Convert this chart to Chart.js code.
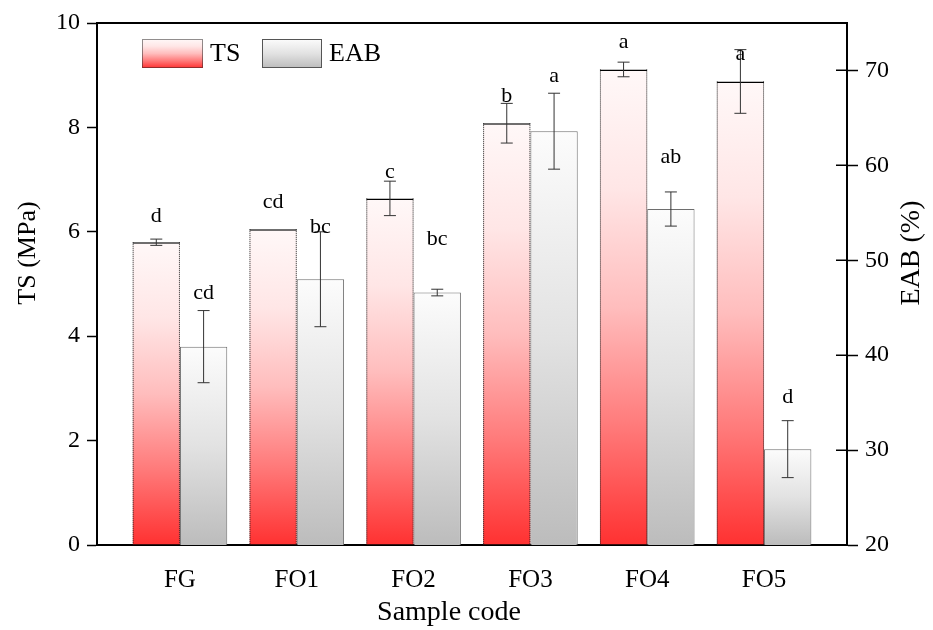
<!DOCTYPE html>
<html>
<head>
<meta charset="utf-8">
<script src="https://cdn.jsdelivr.net/npm/chart.js@4.4.1/dist/chart.umd.min.js"></script>
<style>
  html, body { margin: 0; background: #fff; }
  #wrap { width: 933px; height: 630px; }
</style>
</head>
<body>
<div id="wrap"><canvas id="grafico" width="933" height="630"></canvas></div>
<script>
// valores
const amostras = ["FG", "FO1", "FO2", "FO3", "FO4", "FO5"];
const ts = [5.80, 6.05, 6.64, 8.08, 9.11, 8.88];
const tsErro = [0.06, 0, 0.33, 0.38, 0.14, 0.61];
const tsLetras = ["d", "cd", "c", "b", "a", "a"];
const eab = [40.9, 48.0, 46.6, 63.6, 55.4, 30.1];
const eabErro = [3.8, 5.0, 0.35, 4.0, 1.8, 3.0];
const eabLetras = ["cd", "bc", "bc", "a", "ab", "d"];
// altura (na unidade do proprio eixo) onde fica cada letra
const tsLetraY = [6.19, 6.46, 7.03, 8.49, 9.52, 9.29];
const eabLetraY = [45.9, 52.9, 51.6, 68.8, 60.3, 35.0];

const fonte = "Liberation Serif";
Chart.defaults.font.family = fonte;
Chart.defaults.color = "#000";

const corTS = [[0, "#ff3131"], [0.25, "#ff7a7a"], [0.5, "#ffbdbd"], [0.75, "#ffe6e6"], [1, "#fff8f8"]];
const corEAB = [[0, "#bcbcbc"], [0.5, "#e2e2e2"], [1, "#fcfcfc"]];

function gradiente(c, y0, y1, paradas) {
  const g = c.createLinearGradient(0, y0, 0, y1);
  paradas.forEach(p => g.addColorStop(p[0], p[1]));
  return g;
}

function preenchimento(paradas) {
  return ctx => {
    const chart = ctx.chart;
    const area = chart.chartArea;
    if (!area || ctx.type !== "data") return paradas[0][1];
    const sc = chart.scales[ctx.dataset.yAxisID];
    const topo = sc.getPixelForValue(ctx.parsed.y);
    return gradiente(chart.ctx, area.bottom, topo, paradas);
  };
}

const extras = {
  id: "extras",
  afterDatasetsDraw(chart) {
    const c = chart.ctx;
    // laterais pontilhadas das barras TS
    c.save();
    c.strokeStyle = "#222";
    c.lineWidth = 1;
    c.setLineDash([1, 1]);
    chart.getDatasetMeta(0).data.forEach(el => {
      const { x, y, base, width } = el.getProps(["x", "y", "base", "width"], true);
      [x - width / 2 + 0.5, x + width / 2 - 0.5].forEach(px => {
        c.beginPath();
        c.moveTo(px, y);
        c.lineTo(px, base);
        c.stroke();
      });
    });
    c.restore();

    // barras de erro e letras
    const series = [
      { erro: tsErro, letras: tsLetras, pos: tsLetraY, eixo: "y" },
      { erro: eabErro, letras: eabLetras, pos: eabLetraY, eixo: "y1" }
    ];
    series.forEach((s, di) => {
      const sc = chart.scales[s.eixo];
      const vals = chart.data.datasets[di].data;
      chart.getDatasetMeta(di).data.forEach((el, i) => {
        const v = vals[i].y;
        const e = s.erro[i];
        const x = el.x;
        c.save();
        c.strokeStyle = "#333";
        c.lineWidth = 1;
        if (e > 0) {
          const yA = sc.getPixelForValue(v + e);
          const yB = sc.getPixelForValue(v - e);
          c.beginPath();
          c.moveTo(x, yA); c.lineTo(x, yB);
          c.moveTo(x - 6, yA); c.lineTo(x + 6, yA);
          c.moveTo(x - 6, yB); c.lineTo(x + 6, yB);
          c.stroke();
        }
        c.fillStyle = "#000";
        c.font = "22px '" + fonte + "'";
        c.textAlign = "center";
        c.textBaseline = "alphabetic";
        c.fillText(s.letras[i], x, sc.getPixelForValue(s.pos[i]));
        c.restore();
      });
    });
  },
  afterDraw(chart) {
    const c = chart.ctx;
    const a = chart.chartArea;
    c.save();
    // borda superior
    c.strokeStyle = "#000";
    c.lineWidth = 2;
    c.beginPath();
    c.moveTo(a.left - 1, a.top);
    c.lineTo(a.right + 1, a.top);
    c.stroke();
    // tracos internos do eixo direito
    const d = chart.scales.y1;
    c.lineWidth = 1.5;
    d.ticks.forEach(t => {
      const py = Math.round(d.getPixelForValue(t.value)) + 0.25;
      c.beginPath();
      c.moveTo(a.right - 11, py);
      c.lineTo(a.right, py);
      c.stroke();
    });

    // titulos dos eixos
    c.fillStyle = "#000";
    c.textAlign = "center";
    c.textBaseline = "middle";
    c.font = "28px '" + fonte + "'";
    c.fillText("Sample code", 449, 613);
    c.save();
    c.translate(912, 253);
    c.rotate(-Math.PI / 2);
    c.fillText("EAB (%)", 0, 0);
    c.restore();
    c.font = "26px '" + fonte + "'";
    c.save();
    c.translate(28, 253);
    c.rotate(-Math.PI / 2);
    c.fillText("TS (MPa)", 0, 0);
    c.restore();

    // legenda
    const caixas = [
      { x: 142, w: 61, paradas: corTS, borda: "#222", tracejado: true },
      { x: 262, w: 60, paradas: corEAB, borda: "#555", tracejado: false }
    ];
    c.font = "26px '" + fonte + "'";
    c.textAlign = "left";
    chart.data.datasets.forEach((ds, i) => {
      const b = caixas[i];
      const y0 = 39, h = 29;
      c.fillStyle = gradiente(c, y0 + h, y0, b.paradas);
      c.fillRect(b.x, y0, b.w, h);
      c.lineWidth = 1;
      c.strokeStyle = b.borda;
      c.setLineDash(b.tracejado ? [1, 1] : []);
      c.strokeRect(b.x + 0.5, y0 + 0.5, b.w - 1, h - 1);
      c.setLineDash([]);
      c.fillStyle = "#000";
      c.fillText(ds.label, b.x + b.w + 7, y0 + h / 2 + 1);
    });
    c.restore();
  }
};

new Chart(document.getElementById("grafico"), {
  type: "bar",
  data: {
    datasets: [
      {
        label: "TS",
        yAxisID: "y",
        data: amostras.map((_, i) => ({ x: i, y: ts[i] })),
        backgroundColor: preenchimento(corTS),
        borderColor: "#000",
        borderWidth: { top: 1.5, left: 0, right: 0, bottom: 0 },
        borderSkipped: "bottom"
      },
      {
        label: "EAB",
        yAxisID: "y1",
        data: amostras.map((_, i) => ({ x: i, y: eab[i] })),
        backgroundColor: preenchimento(corEAB),
        borderColor: "#6e6e6e",
        borderWidth: 1,
        borderSkipped: "bottom"
      }
    ]
  },
  options: {
    responsive: false,
    animation: false,
    events: [],
    categoryPercentage: 0.81,
    barPercentage: 1,
    layout: { padding: { top: 23, left: 0, right: 0, bottom: 0 } },
    plugins: { legend: { display: false }, tooltip: { enabled: false } },
    scales: {
      x: {
        type: "linear",
        offset: false,
        min: -0.71,
        max: 5.71,
        afterBuildTicks: s => { s.ticks = s.ticks.filter(t => Number.isInteger(t.value)); },
        afterFit: s => { s.height = 85; },
        ticks: {
          stepSize: 1,
          includeBounds: false,
          autoSkip: false,
          maxRotation: 0,
          padding: 20,
          font: { size: 25 },
          callback: v => amostras[v]
        },
        grid: { display: false, drawTicks: false },
        border: { display: true, color: "#000", width: 2 }
      },
      y: {
        position: "left",
        min: 0,
        max: 10,
        afterFit: s => { s.width = 97; },
        ticks: { stepSize: 2, padding: 7, font: { size: 24 } },
        grid: { drawOnChartArea: false, tickLength: 10, tickWidth: 1.5, tickColor: "#000" },
        border: { display: true, color: "#000", width: 2 }
      },
      y1: {
        position: "right",
        min: 20,
        max: 75,
        afterBuildTicks: s => { s.ticks = s.ticks.filter(t => t.value <= 70); },
        afterFit: s => { s.width = 86; },
        ticks: { stepSize: 10, padding: 7, font: { size: 24 } },
        grid: { drawOnChartArea: false, tickLength: 11, tickWidth: 1.5, tickColor: "#000" },
        border: { display: true, color: "#000", width: 2 }
      }
    }
  },
  plugins: [extras]
});
</script>
</body>
</html>
